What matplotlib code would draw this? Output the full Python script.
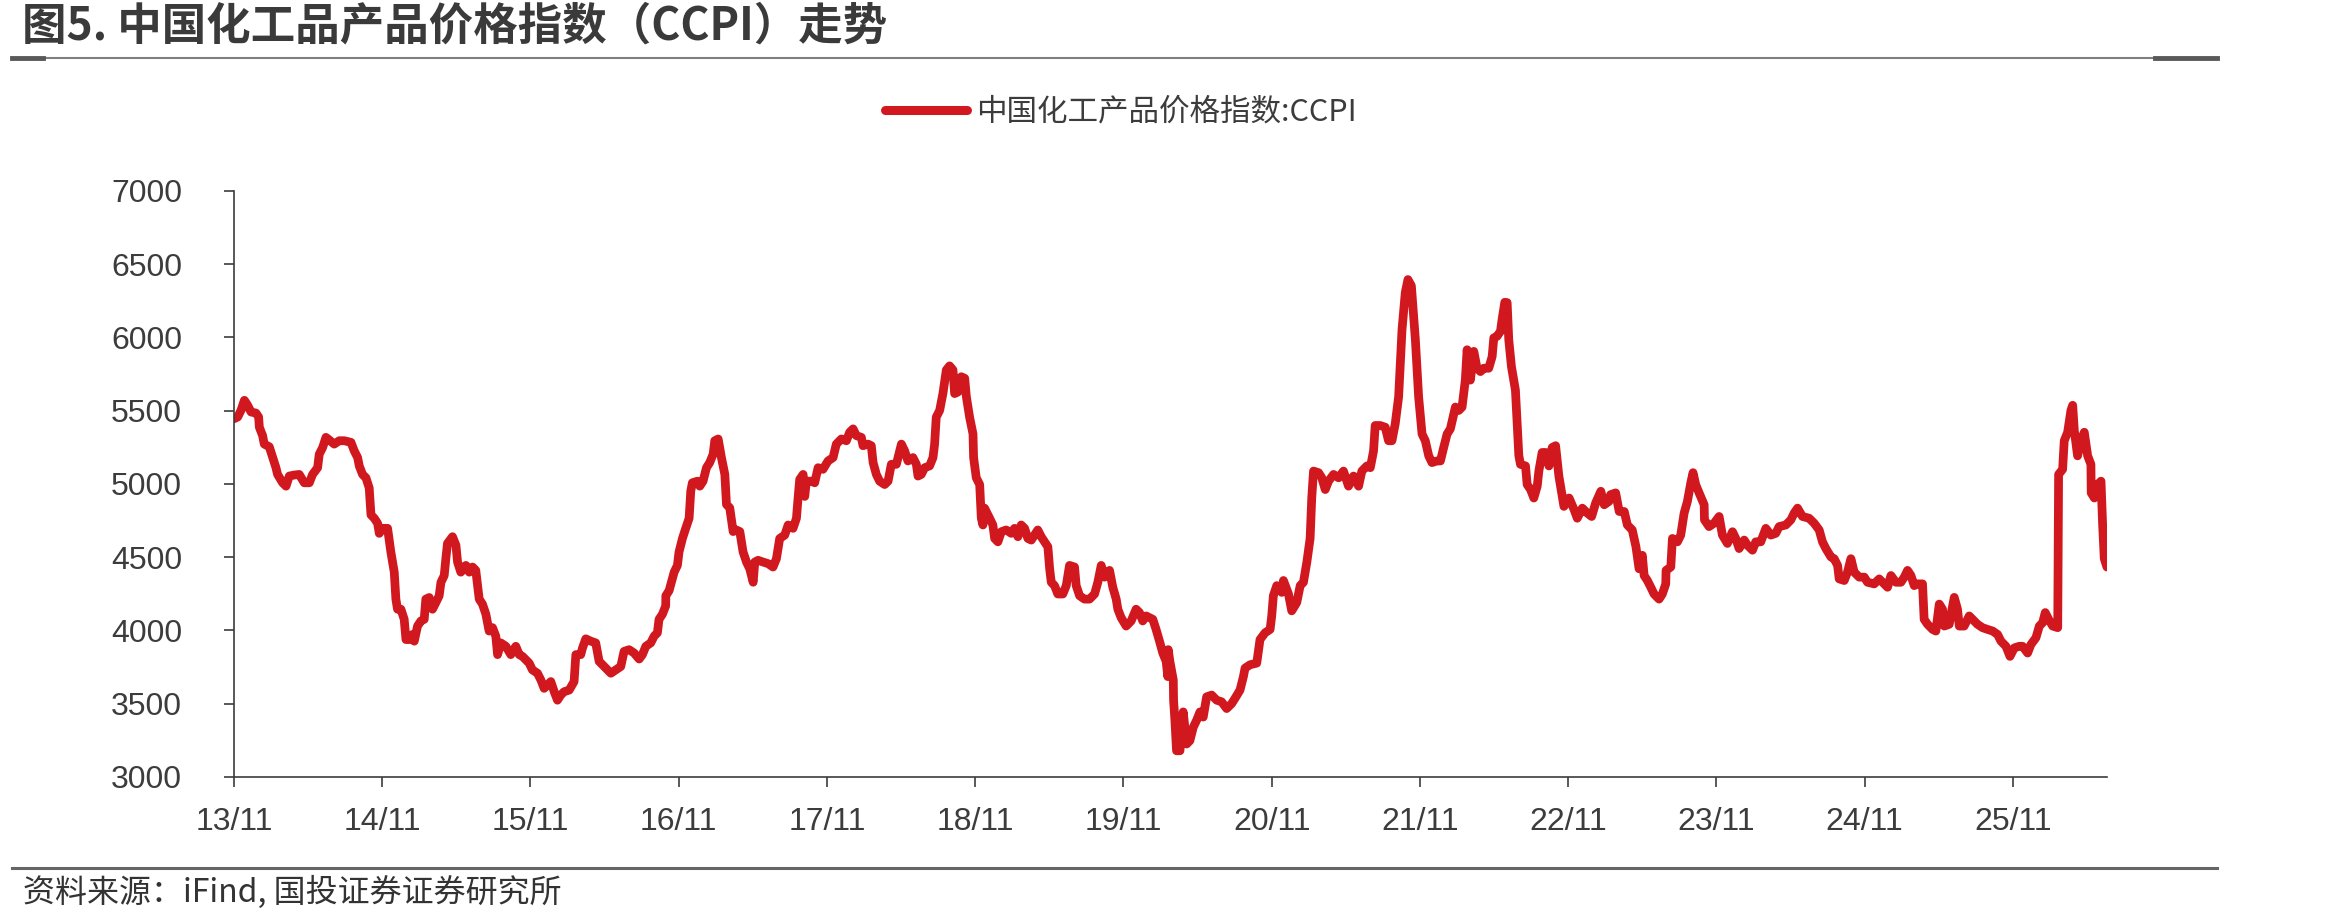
import matplotlib
matplotlib.use("Agg")
import matplotlib.pyplot as plt
from matplotlib.lines import Line2D

# CCPI; x = years after Nov 2013
years = [
    0.000, 0.025, 0.047, 0.070, 0.092, 0.115, 0.148, 0.166, 0.171, 0.193, 0.204, 0.238, 0.261, 0.283, 0.294,
    0.328, 0.351, 0.373, 0.407, 0.440, 0.474, 0.508, 0.530, 0.564, 0.575, 0.598, 0.620, 0.643, 0.676, 0.710,
    0.744, 0.789, 0.811, 0.834, 0.845, 0.867, 0.890, 0.912, 0.924, 0.946, 0.969, 0.980, 1.002, 1.036, 1.058,
    1.081, 1.092, 1.103, 1.126, 1.148, 1.160, 1.182, 1.204, 1.216, 1.238, 1.261, 1.283, 1.294, 1.317, 1.339,
    1.362, 1.384, 1.396, 1.418, 1.429, 1.440, 1.474, 1.497, 1.508, 1.530, 1.564, 1.587, 1.609, 1.631, 1.654,
    1.676, 1.699, 1.721, 1.744, 1.766, 1.778, 1.800, 1.834, 1.867, 1.901, 1.924, 1.946, 1.969, 1.991, 2.013,
    2.047, 2.070, 2.092, 2.115, 2.137, 2.160, 2.182, 2.204, 2.227, 2.261, 2.294, 2.306, 2.339, 2.351, 2.373,
    2.407, 2.440, 2.463, 2.497, 2.542, 2.575, 2.609, 2.631, 2.665, 2.699, 2.733, 2.755, 2.778, 2.811, 2.834,
    2.856, 2.867, 2.890, 2.912, 2.913, 2.935, 2.957, 2.969, 2.991, 3.002, 3.025, 3.047, 3.070, 3.081, 3.092,
    3.126,
    3.142, 3.164, 3.187, 3.209, 3.232, 3.243, 3.266, 3.288, 3.311, 3.322, 3.344, 3.367, 3.389, 3.412, 3.434,
    3.457, 3.479, 3.502, 3.513, 3.535, 3.569, 3.603, 3.636, 3.659, 3.681, 3.715, 3.738, 3.771, 3.794, 3.805,
    3.816, 3.839, 3.850, 3.861, 3.895, 3.917, 3.940, 3.973, 4.007, 4.041, 4.063, 4.097, 4.131, 4.153, 4.176,
    4.198, 4.232, 4.243, 4.277, 4.299, 4.311, 4.333, 4.355, 4.389, 4.412, 4.434, 4.468, 4.502, 4.524, 4.546,
    4.580, 4.603, 4.614, 4.636, 4.659, 4.692, 4.715, 4.726, 4.737, 4.760, 4.782, 4.805, 4.827, 4.850, 4.861,
    4.884, 4.906, 4.929, 4.940, 4.962, 4.985, 4.989, 5.007, 5.030, 5.041, 5.052, 5.063, 5.086, 5.097, 5.119,
    5.131, 5.153, 5.176, 5.209, 5.243, 5.265, 5.288, 5.310, 5.333, 5.355, 5.378, 5.400, 5.422, 5.445, 5.490,
    5.502, 5.513, 5.535, 5.557, 5.591, 5.614, 5.636, 5.670, 5.681, 5.704, 5.737, 5.771, 5.805, 5.827, 5.850,
    5.872, 5.906, 5.928, 5.951, 5.962, 5.984, 6.018, 6.052, 6.085, 6.108, 6.130, 6.153, 6.198, 6.220, 6.243,
    6.265, 6.288, 6.299,
    6.302, 6.313, 6.336, 6.338, 6.347, 6.358, 6.381, 6.403, 6.426, 6.448, 6.471, 6.493, 6.516, 6.538, 6.561,
    6.595, 6.629, 6.662, 6.696, 6.730, 6.752, 6.786, 6.809, 6.820, 6.854, 6.899, 6.921, 6.955, 6.989, 7.000,
    7.011, 7.034, 7.068, 7.079, 7.113, 7.135, 7.169, 7.192, 7.214, 7.237, 7.259, 7.270, 7.282, 7.316, 7.338,
    7.361, 7.383, 7.417, 7.451, 7.484, 7.518, 7.552, 7.586, 7.608, 7.642, 7.665, 7.687, 7.698, 7.732, 7.766,
    7.788, 7.811, 7.833, 7.856, 7.879, 7.901, 7.919, 7.942, 7.969, 7.991, 8.014, 8.036, 8.059, 8.081, 8.115,
    8.138, 8.160, 8.183, 8.205, 8.239, 8.262, 8.284, 8.306, 8.318, 8.340, 8.363, 8.385, 8.408, 8.430, 8.464,
    8.487, 8.498, 8.520, 8.543, 8.554, 8.572, 8.588, 8.599, 8.617, 8.644, 8.667, 8.678, 8.712, 8.723, 8.746,
    8.768, 8.791, 8.802, 8.824, 8.847, 8.870, 8.892, 8.915, 8.937, 8.960, 8.971, 9.006, 9.040, 9.061, 9.095,
    9.129, 9.158, 9.185, 9.220, 9.243, 9.275, 9.286, 9.320, 9.344, 9.378, 9.399, 9.432, 9.457, 9.478,
    9.500, 9.512, 9.534, 9.557, 9.579, 9.613, 9.635, 9.658, 9.660, 9.692, 9.703, 9.737, 9.759, 9.782, 9.804,
    9.827, 9.842, 9.860, 9.883, 9.917, 9.919, 9.950, 9.984, 10.018, 10.040, 10.074, 10.108, 10.130, 10.153, 10.187,
    10.209, 10.243, 10.265, 10.299, 10.333, 10.367, 10.400, 10.423, 10.468, 10.502, 10.524, 10.547, 10.580, 10.625, 10.659,
    10.693, 10.715, 10.738, 10.772, 10.794, 10.817, 10.828, 10.862, 10.884, 10.907, 10.929, 10.963, 10.997, 11.019, 11.064,
    11.098, 11.131, 11.154, 11.177, 11.210, 11.244, 11.267, 11.289, 11.312, 11.334, 11.357, 11.390, 11.401, 11.424, 11.458,
    11.480, 11.503, 11.525, 11.537, 11.570, 11.604, 11.626, 11.638, 11.671, 11.705, 11.728, 11.761, 11.795, 11.829, 11.863,
    11.896, 11.919, 11.953, 11.980, 12.009, 12.043, 12.065, 12.099, 12.121, 12.155, 12.178, 12.200, 12.218, 12.241, 12.268,
    12.302, 12.308, 12.335, 12.346, 12.369, 12.391, 12.403, 12.414, 12.436, 12.459, 12.481, 12.504, 12.526, 12.528, 12.549,
    12.571, 12.594, 12.605, 12.616, 12.634,
]
ccpi = [
    5445, 5457, 5502, 5571, 5537, 5491, 5484, 5457, 5387, 5330, 5272, 5254, 5180, 5111, 5065,
    5008, 4985, 5054, 5061, 5065, 5008, 5008, 5065, 5111, 5203, 5249, 5318, 5300, 5272, 5295,
    5295, 5284, 5226, 5180, 5123, 5065, 5042, 4973, 4789, 4766, 4731, 4663, 4697, 4697, 4536,
    4398, 4214, 4145, 4145, 4076, 3938, 3938, 3973, 3927, 4030, 4065, 4076, 4214, 4225, 4145,
    4191, 4237, 4329, 4375, 4490, 4594, 4640, 4582, 4467, 4398, 4444, 4398, 4433, 4410, 4214,
    4180, 4111, 3996, 4019, 3961, 3835, 3915, 3892, 3835, 3892, 3835, 3823, 3800, 3777, 3731,
    3708, 3662, 3605, 3628, 3651, 3582, 3524, 3559, 3582, 3593, 3651, 3835, 3835, 3881, 3943,
    3927, 3915, 3789, 3754, 3708, 3731, 3754, 3857, 3869, 3846, 3805, 3835, 3892, 3915, 3961,
    3984, 4076, 4111, 4168, 4237, 4272, 4352, 4398, 4444, 4536, 4628, 4697, 4766, 4950, 5008,
    5019,
    4985, 5019, 5111, 5146, 5203, 5295, 5307, 5180, 5065, 4860, 4837, 4675, 4686, 4675, 4536,
    4467, 4421, 4329, 4467, 4479, 4467, 4456, 4433, 4490, 4628, 4651, 4720, 4697, 4766, 4904,
    5031, 5065, 4915, 5019, 5019, 5008, 5111, 5100, 5157, 5180, 5272, 5307, 5295, 5353, 5376,
    5330, 5318, 5261, 5272, 5261, 5146, 5065, 5019, 4996, 5019, 5134, 5134, 5272, 5226, 5157,
    5180, 5134, 5054, 5065, 5111, 5123, 5180, 5272, 5456, 5502, 5617, 5778, 5806, 5778, 5617,
    5628, 5732, 5721, 5597, 5456, 5341, 5180, 5042, 4996, 4766, 4720, 4835, 4789, 4766, 4720,
    4628, 4605, 4674, 4686, 4663, 4697, 4640, 4720, 4697, 4628, 4617, 4651, 4686, 4640, 4571,
    4421, 4329, 4306, 4249, 4249, 4306, 4444, 4433, 4306, 4237, 4214, 4214, 4249, 4329, 4444,
    4364, 4410, 4295, 4214, 4145, 4088, 4030, 4065, 4145, 4122, 4065, 4099, 4076, 4007, 3927,
    3846, 3789, 3685,
    3869, 3789, 3662, 3524, 3386, 3179, 3179, 3444, 3225, 3248, 3340, 3386, 3444, 3409, 3547,
    3559, 3524, 3513, 3467, 3501, 3536, 3593, 3685, 3743, 3766, 3777, 3938, 3984, 4007, 4099,
    4237, 4306, 4260, 4341, 4249, 4134, 4191, 4306, 4329, 4467, 4628, 4904, 5088, 5077, 5042,
    4962, 5019, 5065, 5042, 5088, 4985, 5054, 4985, 5088, 5123, 5111, 5226, 5399, 5399, 5387,
    5295, 5295, 5410, 5594, 6054, 6307, 6395, 6353, 5985, 5594, 5341, 5295, 5192, 5146, 5157,
    5157, 5249, 5341, 5376, 5525, 5502, 5525, 5709, 5916, 5709, 5905, 5790, 5767, 5790, 5790,
    5870, 5997, 6008, 6042, 6123, 6240, 6238, 5985, 5801, 5640, 5192, 5134, 5123, 4996, 4962,
    4904, 4985, 5088, 5215, 5215, 5123, 5249, 5261, 5054, 4916, 4847, 4904, 4824, 4766, 4835,
    4801, 4778, 4870, 4950, 4858, 4881, 4927, 4939, 4812, 4812, 4720, 4686, 4571, 4421,
    4513, 4375, 4341, 4295, 4249, 4214, 4249, 4318, 4410, 4433, 4628, 4605, 4651, 4801, 4881,
    5008, 5077, 4996, 4939, 4858, 4755, 4709, 4732, 4778, 4651, 4594, 4674, 4628, 4559, 4617,
    4582, 4548, 4605, 4605, 4697, 4651, 4663, 4709, 4720, 4755, 4801, 4835, 4778, 4766, 4732,
    4686, 4605, 4559, 4502, 4490, 4444, 4352, 4341, 4398, 4490, 4398, 4364, 4364, 4329, 4318,
    4352, 4318, 4295, 4375, 4329, 4329, 4364, 4410, 4375, 4306, 4318, 4318, 4076, 4042, 4007,
    3996, 4180, 4145, 4030, 4042, 4226, 4145, 4030, 4030, 4099, 4076, 4042, 4019, 4007, 3996,
    3973, 3927, 3892, 3823, 3881, 3892, 3892, 3846, 3904, 3950, 4030, 4053, 4122, 4076, 4030,
    4019, 5065, 5100, 5295, 5353, 5502, 5537, 5364, 5192, 5295, 5353, 5192, 5134, 4939, 4904,
    4996, 5019, 4720, 4490, 4433,
]
tick_pos = list(range(13))
tick_labels = ["13/11", "14/11", "15/11", "16/11", "17/11", "18/11", "19/11",
               "20/11", "21/11", "22/11", "23/11", "24/11", "25/11"]
yticks = [3000, 3500, 4000, 4500, 5000, 5500, 6000, 6500, 7000]

red = "#D2181F"
dark = "#3c3c3c"
cjk = ["Noto Sans CJK SC", "DejaVu Sans"]
plt.rcParams["font.family"] = ["Liberation Sans", "Noto Sans CJK SC"]

fig = plt.figure(figsize=(23.4, 9.22), dpi=100)
ax = fig.add_axes([0.1, 0.1573, 0.8004, 0.6356])

ax.plot(years, ccpi, color=red, lw=6.3, solid_joinstyle="round",
        solid_capstyle="round", label="中国化工产品价格指数:CCPI")

ax.set_xlim(0, years[-1])
ax.set_ylim(3000, 7000)
ax.set_xticks(tick_pos)
ax.set_xticklabels(tick_labels)
ax.set_yticks(yticks)

for s in ["top", "right"]:
    ax.spines[s].set_visible(False)
for s in ["left", "bottom"]:
    ax.spines[s].set_color(dark)
    ax.spines[s].set_linewidth(1.2)
ax.tick_params(axis="both", direction="out", length=7.5, width=1.2,
               color=dark, labelcolor=dark, labelsize=23)
ax.tick_params(axis="y", pad=30)
ax.tick_params(axis="x", pad=14)

leg = ax.legend(loc="center", bbox_to_anchor=(0.479, 0.8785),
                bbox_transform=fig.transFigure, frameon=False,
                prop={"family": cjk, "size": 22}, handlelength=2.7,
                handletextpad=0.3, labelcolor=dark)
leg.get_lines()[0].set_linewidth(6.5)

fig.text(0.0094, 0.9718, "图5. 中国化工品产品价格指数（CCPI）走势",
         family=cjk, weight="bold", size=32, color="#3a3a3a", va="center")
fig.text(0.0098, 0.0325, "资料来源：iFind, 国投证券证券研究所",
         family=cjk, style="italic", size=23, color="#333333", va="center")

# header / footer rules
fig.add_artist(Line2D([0.0051, 0.9474], [0.9371, 0.9371], color="#7f7f7f", lw=1.5))
fig.add_artist(Line2D([0.0051, 0.0184], [0.9371, 0.9371], color="#595959", lw=3.5))
fig.add_artist(Line2D([0.9209, 0.9474], [0.9371, 0.9371], color="#595959", lw=3.5))
fig.add_artist(Line2D([0.0051, 0.9474], [0.0586, 0.0586], color="#666666", lw=2.2))

fig.savefig("out.png", dpi=100)
